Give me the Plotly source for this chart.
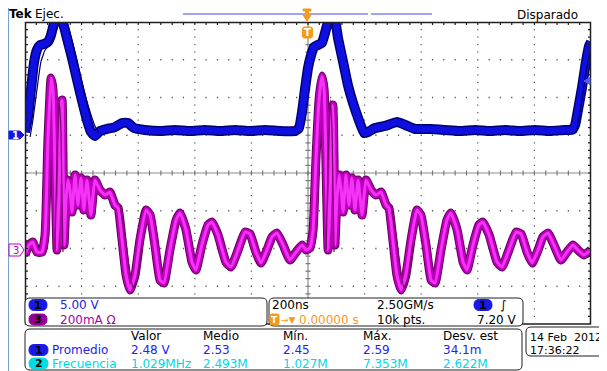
import plotly.graph_objects as go

# ---------------- data (time in ns, CH1 in V, CH3 in mA) ----------------
ch1_t = [-1000, -990, -979, -968, -958, -947, -933, -919, -908, -898, -887, -873, -862, -852,
         -834, -816, -799, -781, -767, -753, -735, -710, -682, -657, -636, -615, -576, -523,
         -470, -417, -364, -311, -258, -205, -152, -99, -46, -32, -21, -11, 0, 11, 21, 35, 49,
         60, 71, 81, 95, 106, 124, 141, 159, 177, 198, 212, 237, 272, 315, 343, 378, 431, 484,
         537, 590, 643, 696, 749, 802, 855, 908, 933, 944, 954, 968, 982, 993, 1000]
ch1_v = [0.43, 2.29, 5.99, 9.70, 11.29, 11.96, 12.09, 12.35, 13.28, 14.74, 15.40, 15.40, 14.34, 12.88,
         10.23, 7.32, 4.67, 2.02, 0.43, -0.10, 0.56, 0.83, 1.09, 1.62, 1.62, 0.96, 0.70, 0.56,
         0.70, 0.56, 0.70, 0.56, 0.70, 0.56, 0.70, 0.56, 0.56, 0.96, 3.08, 5.99, 8.91, 10.63, 11.69, 11.96, 12.22,
         13.55, 15.0, 15.40, 15.27, 12.88, 9.70, 6.66, 4.27, 2.29, 0.30, 0.43, 0.96, 1.23, 1.75, 1.36, 0.83, 0.83, 0.70,
         0.56, 0.70, 0.56, 0.70, 0.56, 0.70, 0.56, 0.70, 0.70, 1.36, 3.34, 6.26, 9.70, 11.82, 12.35]

ch1_ghost_t = [-982, -972, -958, -944, -929, -912, -894, -880, -862, -852, -834, -813, -792, -770, -753, -739,
               None, 947, 961, 975, 989, 1000]
ch1_ghost_v = [-0.23, 2.02, 5.99, 9.70, 11.29, 11.96, 13.28, 15.0, 15.40, 15.0, 12.62, 9.30, 5.99, 3.08, 1.23, 0.30,
               None, 0.30, 3.08, 6.52, 9.70, 11.29]

ch3_t = [-1000, -986, -972, -958, -940, -929, -919, -908, -901, -894, -887, -880, -873, -869, -866, -862,
         -855, -848, -841, -834, -823, -813, -802, -792, -781, -767, -753, -735, -717, -700, -682, -671,
         -657, -643, -629, -611, -594, -572, -558, -541, -523, -509, -488, -466, -452, -431, -410, -396,
         -375, -353, -339, -318, -290, -272, -247, -223, -205, -184, -166, -145, -127, -110, -88, -64,
         -42, -21, -7, 7, 18, 28, 39, 49, 57, 64, 71, 78, 85, 88, 92, 95,
         102, 110, 117, 124, 134, 145, 155, 166, 177, 191, 205, 223, 240, 258, 276, 286,
         300, 314, 329, 346, 364, 385, 399, 417, 435, 449, 470, 491, 505, 527, 548, 562,
         583, 604, 618, 640, 668, 686, 710, 735, 753, 774, 792, 813, 830, 848, 869, 894,
         915, 936, 954, 975, 1000]
ch3_ma = [-34, 19, 34, -19, -19, 72, 575, 903, 840, 416, -8, 257, 760, 787, 522, 19,
          257, 363, 310, 193, 389, 230, 374, 204, 363, 177, 363, 310, 283, 299, 230, 215,
          45, -140, -220, -140, 45, 204, 177, 19, -167, -183, -8, 151, 188, 98, -72, -114,
          19, 125, 140, 72, -72, -98, -8, 87, 77, -19, -77, -8, 61, 82, 19, -61,
          -19, 19, -8, 3, 98, 469, 787, 914, 840, 416, -8, 257, 734, 760, 469, 19,
          257, 389, 310, 193, 389, 230, 374, 204, 363, 177, 363, 310, 283, 299, 230, 215,
          45, -140, -220, -140, 45, 204, 177, 19, -167, -183, -8, 151, 188, 98, -72, -114,
          19, 125, 140, 72, -72, -98, -8, 87, 77, -19, -77, -8, 61, 82, 19, -61,
          -19, 19, -8, -34, -8]

ch3_ghost_t = [-894, -887, -880, -873, -866, None, -664, -647, -633, -618, -604, -587, None,
               64, 71, 78, 85, 92, None, 293, 311, 325, 339, 353, 371]
ch3_ghost_ma = [-8, 469, 787, 628, -19, None, 230, 72, -87, -209, -167, 19, None,
                -8, 469, 787, 628, -19, None, 230, 72, -87, -209, -167, 19]

ch_scale_labels = ["5.00 V", "200mA \u03a9"]
timebase_labels = ["200ns", "2.50GM/s", "10k pts.", "7.20 V"]
trigger_pos_label = "0.00000 s"
meas_headers = ["Valor", "Medio", "M\u00edn.", "M\u00e1x.", "Desv. est"]
meas_row1_name = "Promedio"
meas_row1 = ["2.48 V", "2.53", "2.45", "2.59", "34.1m"]
meas_row2_name = "Frecuencia"
meas_row2 = ["1.029MHz", "2.493M", "1.027M", "7.353M", "2.622M"]
date_lines = ["14 Feb  2012", "17:36:22"]

# ---------------- layout geometry (coordinates given in screenshot pixels) ----------------
OFF = 8                      # page body margin
W, H = 607 - OFF, 371 - OFF
PL, PT, PR, PB = 25, 22, 591, 324   # plot area in screenshot pixels
L, T = PL - OFF, PT - OFF
R, B = 607 - PR, 371 - PB
PW, PH = PR - PL, PB - PT
NX, NY = 10, 8               # graticule divisions


def X(px):
    return (px - PL) / PW


def Y(py):
    return (PB - py) / PH


FONT = "DejaVu Sans"
BLUE_TXT = "rgb(35,35,235)"
PURPLE_TXT = "rgb(165,0,165)"
CYAN_TXT = "rgb(0,215,225)"
ORANGE = "rgb(245,155,25)"
FRAME = "#202020"
GRID = "#555555"

fig = go.Figure()

# CH1 (blue) persistence band on the primary y axis (5 V/div, ground 1 div above centre)
for w, c in [(10, "rgb(0,0,115)"), (7, "rgb(15,15,225)")]:
    fig.add_trace(go.Scatter(x=ch1_t, y=ch1_v, mode="lines", xaxis="x", yaxis="y",
                             line=dict(color=c, width=w, shape="spline", smoothing=0.4),
                             hoverinfo="skip", showlegend=False))
fig.add_trace(go.Scatter(x=ch1_ghost_t, y=ch1_ghost_v, mode="lines", xaxis="x", yaxis="y",
                         line=dict(color="rgb(0,0,110)", width=1.2, shape="spline", smoothing=0.4),
                         hoverinfo="skip", showlegend=False, connectgaps=False))
# CH3 (magenta) persistence band (200 mA/div, ground 2 div below centre)
for w, c in [(9, "rgb(100,0,90)"), (7, "rgb(190,0,190)"), (3, "rgb(245,50,245)")]:
    fig.add_trace(go.Scatter(x=ch3_t, y=ch3_ma, mode="lines", xaxis="x", yaxis="y2",
                             line=dict(color=c, width=w, shape="spline", smoothing=0.4),
                             hoverinfo="skip", showlegend=False))
fig.add_trace(go.Scatter(x=ch3_ghost_t, y=ch3_ghost_ma, mode="lines", xaxis="x", yaxis="y2",
                         line=dict(color="rgb(120,0,110)", width=1.2, shape="spline", smoothing=0.4),
                         hoverinfo="skip", showlegend=False, connectgaps=False))

fig.update_layout(
    width=W, height=H,
    margin=dict(l=L, r=R, t=T, b=B, pad=0),
    paper_bgcolor="white", plot_bgcolor="rgba(0,0,0,0)",
    showlegend=False,
    xaxis=dict(range=[-1000, 1000], showgrid=False, zeroline=False, showline=False,
               ticks="", showticklabels=False),
    yaxis=dict(range=[-25, 15], showgrid=False, zeroline=False, showline=False,
               ticks="", showticklabels=False),
    yaxis2=dict(range=[-400, 1200], overlaying="y", visible=False),
)

shapes = []
annots = []


def path_shape(p, color, w=1, layer="above", dash="solid", fill="rgba(0,0,0,0)"):
    shapes.append(dict(type="path", path=p, xref="paper", yref="paper", fillcolor=fill,
                       line=dict(color=color, width=w, dash=dash), layer=layer))


def seg(x0, y0, x1, y1):
    return f"M {X(x0):.5f},{Y(y0):.5f} L {X(x1):.5f},{Y(y1):.5f} "


def rrect(x0, y0, x1, y1, r, fill="white", line=FRAME, lw=1):
    p = (f"M {X(x0 + r)},{Y(y0)} L {X(x1 - r)},{Y(y0)} Q {X(x1)},{Y(y0)} {X(x1)},{Y(y0 + r)} "
         f"L {X(x1)},{Y(y1 - r)} Q {X(x1)},{Y(y1)} {X(x1 - r)},{Y(y1)} "
         f"L {X(x0 + r)},{Y(y1)} Q {X(x0)},{Y(y1)} {X(x0)},{Y(y1 - r)} "
         f"L {X(x0)},{Y(y0 + r)} Q {X(x0)},{Y(y0)} {X(x0 + r)},{Y(y0)} Z")
    path_shape(p, line, lw, "above", fill=fill)


def text(x, y, s, color="black", size=12, anchor="left", bold=False):
    dx = {"left": -2, "right": 2, "center": 0}[anchor]
    annots.append(dict(x=X(x + dx), y=Y(y), xref="paper", yref="paper",
                       text=(f"<b>{s}</b>" if bold else s),
                       showarrow=False, xanchor=anchor, yanchor="middle",
                       font=dict(family=FONT, size=size, color=color)))


def poly(pts, fill, line=None, lw=1):
    p = "M " + " L ".join(f"{X(a)},{Y(b)}" for a, b in pts) + " Z"
    path_shape(p, line or fill, lw, "above", fill=fill)


# ---------- graticule (decoration) ----------
CX, CY = (PL + PR) / 2, (PT + PB) / 2
dx_min, dy_min = PW / (NX * 5), PH / (NY * 5)
# grid dots: small tick-like dashes at every minor division on each major line
dots = ""
for i in range(1, NX):
    if i == NX // 2:
        continue
    xx = PL + i * PW / NX
    for j in range(1, NY * 5):
        yy = PT + j * dy_min
        dots += seg(xx - 0.6, yy, xx + 0.6, yy)
for j in range(1, NY):
    if j == NY // 2:
        continue
    yy = PT + j * PH / NY
    for i in range(1, NX * 5):
        xx = PL + i * dx_min
        dots += seg(xx - 0.6, yy, xx + 0.6, yy)
path_shape(dots, GRID, 1.3, "below")
path_shape(seg(PL, CY, PR, CY) + seg(CX, PT, CX, PB), "#8c8c8c", 1.2, "below")
cticks = "".join(seg(PL + i * dx_min, CY - 2.5, PL + i * dx_min, CY + 2.5) for i in range(1, NX * 5))
cticks += "".join(seg(CX - 2.5, PT + j * dy_min, CX + 2.5, PT + j * dy_min) for j in range(1, NY * 5))
path_shape(cticks, "#7a7a7a", 1.2, "below")
fticks = "".join(seg(PL + i * dx_min, PT, PL + i * dx_min, PT + 3) for i in range(1, NX * 5))
fticks += "".join(seg(PL, PT + j * dy_min, PL + 3, PT + j * dy_min) + seg(PR - 3, PT + j * dy_min, PR, PT + j * dy_min)
                  for j in range(1, NY * 5))
path_shape(fticks, FRAME, 1.2, "above")
shapes.append(dict(type="rect", xref="paper", yref="paper", x0=X(PL + 0.5), x1=X(PR - 0.5),
                   y0=Y(PB), y1=Y(PT + 0.5), line=dict(color=FRAME, width=1.5),
                   fillcolor="rgba(0,0,0,0)", layer="above"))

# outer light-blue bezel
path_shape(seg(8, 2, 8, 371) + seg(7, 3, 607, 3), "rgb(120,160,210)", 2)
# top labels
text(9, 14, "Tek", size=12, bold=True)
text(35, 14, "Ejec.", size=12)
text(578, 15, "Disparado", size=12, anchor="right")
# record-view bar
path_shape(seg(183, 14, 368, 14) + seg(371, 14, 432, 14), "rgb(70,70,235)", 1.2)
# trigger position marker (top)
poly([(303, 9), (311, 9), (311, 11), (308.5, 11), (308.5, 15), (311, 15), (307, 21), (303, 15),
      (305.5, 15), (305.5, 11), (303, 11)], ORANGE)
rrect(302.5, 27, 312.5, 38, 2, fill=ORANGE, line=ORANGE)
text(307.5, 32.5, "T", color="white", size=10, anchor="center", bold=True)
# channel ground markers (left)
poly([(9, 131), (20, 131), (24, 135), (20, 139), (9, 139)], "rgb(20,20,230)")
text(15, 135, "1", color="white", size=10, anchor="center", bold=True)
poly([(9, 244), (20, 244), (24, 250), (20, 256), (9, 256)], "white", line="rgb(190,0,190)", lw=1)
text(15.5, 250, "3", color="rgb(190,0,190)", size=10, anchor="center")
# trigger level marker (right)
poly([(584, 81), (590, 77.5), (590, 84.5)], "rgb(90,90,240)")

# ---------- readout boxes ----------
rrect(25, 298, 267, 326, 5)
rrect(269, 298, 523, 326, 5)
rrect(25, 329, 522, 370, 5)
rrect(526, 327, 615, 356, 5)


def pill(x0, x1, yc, fill, label, tcolor="black"):
    rrect(x0, yc - 5.5, x1, yc + 5.5, 5.4, fill=fill, line=fill)
    text((x0 + x1) / 2, yc, label, color=tcolor, size=11, anchor="center", bold=True)


# channel scale box
pill(29, 47, 305, "rgb(25,25,230)", "1")
text(60, 305, ch_scale_labels[0], color=BLUE_TXT)
pill(29, 47, 319.5, "rgb(150,0,150)", "3")
text(60, 319.5, ch_scale_labels[1], color=PURPLE_TXT)

# timebase box
text(272, 305, timebase_labels[0])
rrect(270, 314, 279, 325, 2, fill=ORANGE, line=ORANGE)
text(274.5, 319.5, "T", color="white", size=9, anchor="center", bold=True)
text(281, 319.5, "\u2192\u25bc", color=ORANGE, size=9)
text(299, 319.5, trigger_pos_label, color=ORANGE)
text(377, 305, timebase_labels[1])
text(377, 319.5, timebase_labels[2])
pill(474, 492, 305, "rgb(25,25,230)", "1")
text(503, 305, "\u222b", size=12, anchor="center")
text(517, 319.5, timebase_labels[3], anchor="right")

# measurement box
cols = [131, 203, 283, 363, 443]
for cx, h in zip(cols, meas_headers):
    text(cx, 336, h)
pill(29, 48, 350, "rgb(25,25,230)", "1")
text(52, 350, meas_row1_name, color=BLUE_TXT)
for cx, v in zip(cols, meas_row1):
    text(cx, 350, v, color=BLUE_TXT)
pill(29, 48, 363.5, "rgb(0,220,225)", "2")
text(52, 363.5, meas_row2_name, color=CYAN_TXT)
for cx, v in zip(cols, meas_row2):
    text(cx, 363.5, v, color=CYAN_TXT)

# date box
text(530, 337, date_lines[0], size=11)
text(530, 351, date_lines[1], size=11)

fig.update_layout(shapes=shapes, annotations=annots)
fig.write_html("out.html")
